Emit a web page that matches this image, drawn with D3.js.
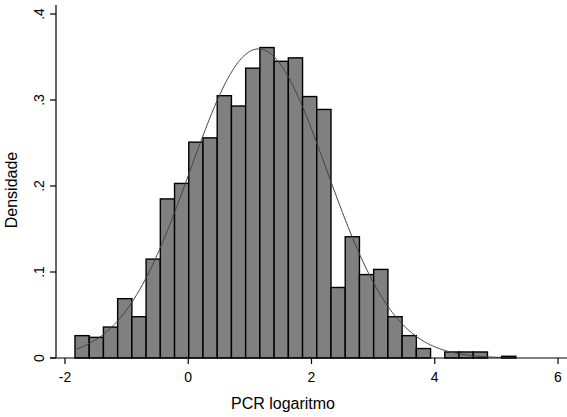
<!DOCTYPE html>
<html>
<head>
<meta charset="utf-8">
<script src="https://cdn.jsdelivr.net/npm/d3@7"></script>
<style>
  html, body { margin: 0; padding: 0; background: #fff; }
  svg { display: block; font-family: "Liberation Sans", Arial, sans-serif; }
</style>
</head>
<body>
<div id="chart"></div>
<script>
// Histogram definition (log PCR)
const binStart = -1.838;
const binWidth = 0.2308;
const densities = [
  0.026, 0.024, 0.036, 0.069, 0.048, 0.115, 0.185, 0.203,
  0.251, 0.256, 0.305, 0.293, 0.337, 0.361, 0.345, 0.349,
  0.304, 0.289, 0.082, 0.141, 0.097, 0.103, 0.048, 0.026,
  0.011, 0, 0.007, 0.007, 0.007, 0, 0.002
];

// Overlaid normal density
const normalMean = 1.14;
const normalSd = 1.11;

// Axis ticks
const xTicks = [-2, 0, 2, 4, 6];
const yTicks = [0, 0.1, 0.2, 0.3, 0.4];
const yTickLabels = ['0', '.1', '.2', '.3', '.4'];

const width = 567;
const height = 417;

const svg = d3.select('#chart')
  .append('svg')
  .attr('width', width)
  .attr('height', height);

svg.append('rect')
  .attr('width', width)
  .attr('height', height)
  .attr('fill', '#fff');

const x = d3.scaleLinear().domain([-2, 6]).range([65, 558]);
const y = d3.scaleLinear().domain([0, 0.4]).range([358, 14]);

// Bars
const bins = densities.map((d, i) => ({
  x0: binStart + i * binWidth,
  x1: binStart + (i + 1) * binWidth,
  d
})).filter(b => b.d > 0);

svg.append('g')
  .selectAll('rect')
  .data(bins)
  .join('rect')
  .attr('x', b => x(b.x0))
  .attr('y', b => y(b.d))
  .attr('width', b => x(b.x1) - x(b.x0))
  .attr('height', b => y(0) - y(b.d))
  .attr('fill', '#808080')
  .attr('stroke', '#000')
  .attr('stroke-width', 1.4);

// Normal curve
const curveXs = d3.range(0, 301).map(i => binStart + i * (densities.length * binWidth) / 300);
const pdf = v => Math.exp(-0.5 * ((v - normalMean) / normalSd) ** 2) / (normalSd * Math.sqrt(2 * Math.PI));

svg.append('path')
  .datum(curveXs)
  .attr('fill', 'none')
  .attr('stroke', '#444')
  .attr('stroke-width', 1)
  .attr('d', d3.line().x(v => x(v)).y(v => y(pdf(v))));

// X axis
svg.append('line')
  .attr('x1', 50).attr('x2', width)
  .attr('y1', y(0)).attr('y2', y(0))
  .attr('stroke', '#000').attr('stroke-width', 1.2);

const xAxis = svg.append('g');
xAxis.selectAll('line')
  .data(xTicks)
  .join('line')
  .attr('x1', d => x(d)).attr('x2', d => x(d))
  .attr('y1', y(0)).attr('y2', y(0) + 6)
  .attr('stroke', '#000').attr('stroke-width', 1.2);
xAxis.selectAll('text')
  .data(xTicks)
  .join('text')
  .attr('x', d => x(d))
  .attr('y', 382)
  .attr('text-anchor', 'middle')
  .style('font-size', '14px')
  .text(d => d3.format('')(d).replace('−', '-'));

svg.append('text')
  .attr('x', 283)
  .attr('y', 409)
  .attr('text-anchor', 'middle')
  .style('font-size', '16px')
  .text('PCR logaritmo');

// Y axis
svg.append('line')
  .attr('x1', 56).attr('x2', 56)
  .attr('y1', 5).attr('y2', y(0))
  .attr('stroke', '#000').attr('stroke-width', 1.2);

const yAxis = svg.append('g');
yAxis.selectAll('line')
  .data(yTicks)
  .join('line')
  .attr('x1', 50).attr('x2', 56)
  .attr('y1', d => y(d)).attr('y2', d => y(d))
  .attr('stroke', '#000').attr('stroke-width', 1.2);
yAxis.selectAll('text')
  .data(yTicks)
  .join('text')
  .attr('transform', d => `translate(44, ${y(d)}) rotate(-90)`)
  .attr('text-anchor', 'middle')
  .style('font-size', '14px')
  .text((d, i) => yTickLabels[i]);

svg.append('text')
  .attr('transform', 'translate(17, 190) rotate(-90)')
  .attr('text-anchor', 'middle')
  .style('font-size', '16px')
  .text('Densidade');
</script>
</body>
</html>
